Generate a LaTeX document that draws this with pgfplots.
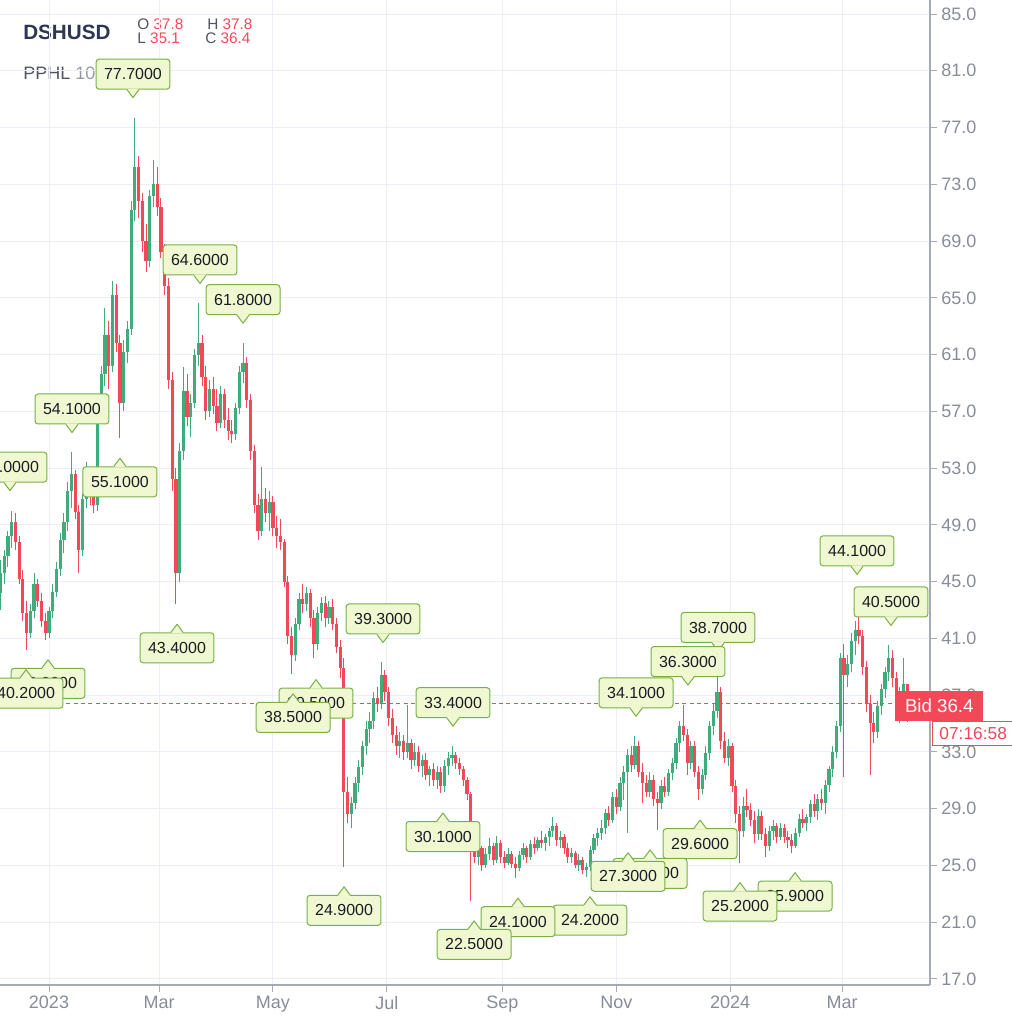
\documentclass[border=0pt]{standalone}
\usepackage{fontspec}
\setmainfont{Liberation Sans}
\usepackage{pgfplots}
\usepackage{pgfplotstable}
\pgfplotsset{compat=1.18}
\definecolor{cred}{RGB}{242,72,88}
\definecolor{cgreen}{RGB}{64,172,124}
\definecolor{labfill}{RGB}{240,248,210}
\definecolor{labbd}{RGB}{120,175,70}
\definecolor{labtext}{RGB}{25,28,35}
\definecolor{axgray}{RGB}{165,170,184}
\definecolor{ticktext}{RGB}{135,140,152}
\definecolor{gridc}{RGB}{236,240,246}
\definecolor{titlec}{RGB}{45,55,85}
\definecolor{hdrgray}{RGB}{80,84,95}
\definecolor{lgray}{RGB}{150,154,165}

\pgfplotstableread{
t o h l c
-26 44.2 46.5 43.0 45.6
-24 45.6 47.2 44.8 46.8
-22 46.8 48.6 46.0 48.2
-20 48.2 50.0 47.4 49.2
-18 49.2 49.8 47.2 47.8
-16 47.8 48.2 44.8 45.2
-14 45.2 45.8 42.2 42.8
-12 42.8 43.6 40.2 41.4
-10 41.4 43.4 41.0 42.9
-8 42.9 45.6 42.4 44.8
-6 44.8 45.2 43.2 43.6
-4 43.6 44.2 41.8 42.2
-2 42.2 42.8 40.9 41.4
0 41.4 43.2 41.0 42.9
2 42.9 44.8 42.4 44.3
4 44.3 46.4 43.9 45.9
6 45.9 48.4 45.4 47.9
8 47.9 49.8 47.0 49.2
10 49.2 52.0 48.6 51.4
12 51.4 54.1 50.2 52.6
14 52.6 52.9 49.4 49.9
16 49.9 50.4 45.6 47.2
18 47.2 51.2 46.8 50.8
20 50.8 53.4 50.2 52.7
22 52.7 53.0 50.4 51.0
24 51.0 51.6 49.8 50.4
26 50.4 57.2 50.0 56.8
28 56.8 60.2 56.2 59.6
30 59.6 64.3 58.8 62.4
32 62.4 63.4 58.6 60.2
34 60.2 66.2 59.8 65.2
36 65.2 66.0 61.2 61.8
38 61.8 62.4 55.1 57.6
40 57.6 62.0 57.0 61.2
42 61.2 63.4 60.4 62.8
44 62.8 71.8 62.4 71.2
46 71.2 77.7 70.4 74.2
48 74.2 75.0 70.6 71.8
50 71.8 72.4 68.2 69.0
52 69.0 70.2 66.8 67.6
54 67.6 72.6 67.2 72.2
56 72.2 74.7 71.4 73.0
58 73.0 74.2 70.8 71.4
60 71.4 72.0 67.8 68.2
62 68.2 68.8 65.2 65.8
64 65.8 66.4 58.6 59.2
66 59.2 59.8 51.4 52.2
68 52.2 53.0 43.4 45.6
70 45.6 54.8 45.0 54.2
72 54.2 60.1 53.6 58.4
74 58.4 59.6 56.0 56.6
76 56.6 58.2 55.2 57.6
78 57.6 61.4 57.2 61.0
80 61.0 64.6 60.2 61.8
82 61.8 62.4 58.8 59.4
84 59.4 60.2 56.4 57.0
86 57.0 59.2 56.6 58.6
88 58.6 59.4 56.8 57.4
90 57.4 58.6 55.6 56.2
92 56.2 58.8 55.8 58.2
94 58.2 58.6 55.8 56.4
96 56.4 57.2 55.0 55.6
98 55.6 56.4 54.8 55.4
100 55.4 57.6 55.0 57.2
102 57.2 60.2 56.8 59.8
104 59.8 61.8 59.0 60.4
106 60.4 60.8 57.2 57.8
108 57.8 58.2 53.6 54.2
110 54.2 54.6 49.8 50.4
112 50.4 51.2 47.9 48.6
114 48.6 53.1 48.2 50.8
116 50.8 51.6 49.2 49.8
118 49.8 51.4 48.6 50.6
120 50.6 51.0 48.2 48.8
122 48.8 49.6 47.4 48.2
124 48.2 49.4 47.2 47.8
126 47.8 48.0 44.6 45.0
128 45.0 45.4 40.6 41.2
130 41.2 41.8 38.5 39.8
132 39.8 42.4 39.4 42.0
134 42.0 44.2 41.6 43.8
136 43.8 44.8 42.8 43.4
138 43.4 44.6 42.9 44.2
140 44.2 44.5 41.8 42.4
142 42.4 43.0 39.6 40.6
144 40.6 43.2 40.2 42.8
146 42.8 43.9 42.2 43.5
148 43.5 44.0 41.8 42.4
150 42.4 43.6 42.0 43.2
152 43.2 43.8 41.6 42.0
154 42.0 42.4 40.0 40.4
156 40.4 40.9 38.2 38.9
158 38.9 39.6 24.9 30.2
160 30.2 31.2 28.0 28.6
162 28.6 29.8 27.6 29.4
164 29.4 31.2 29.0 30.8
166 30.8 32.4 30.2 31.9
168 31.9 33.8 31.4 33.4
170 33.4 35.2 32.8 34.6
172 34.6 35.8 33.6 35.2
174 35.2 37.2 34.6 36.8
176 36.8 37.6 35.8 36.4
178 36.4 39.3 36.0 38.4
180 38.4 38.8 36.6 37.2
182 37.2 37.6 34.8 35.4
184 35.4 36.0 33.6 34.2
186 34.2 34.8 32.8 33.4
188 33.4 34.4 32.6 33.8
190 33.8 34.2 32.4 33.0
192 33.0 36.3 32.6 33.6
194 33.6 33.9 31.8 32.4
196 32.4 33.6 32.0 33.0
198 33.0 33.4 31.6 32.0
200 32.0 32.8 31.2 32.4
202 32.4 32.9 31.0 31.4
204 31.4 32.0 30.6 31.8
206 31.8 32.2 30.6 31.0
208 31.0 32.0 30.4 31.6
210 31.6 31.9 30.1 30.6
212 30.6 32.4 30.2 32.0
214 32.0 33.0 31.4 32.6
216 32.6 33.4 32.0 32.8
218 32.8 33.0 31.8 32.2
220 32.2 32.6 31.4 31.8
222 31.8 32.0 30.6 31.0
224 31.0 31.2 29.6 30.0
226 30.0 30.2 22.5 26.4
228 26.4 27.0 25.2 25.6
230 25.6 26.8 25.0 26.2
232 26.2 26.4 24.6 25.0
234 25.0 26.2 24.8 25.8
236 25.8 26.9 25.4 26.4
238 26.4 26.6 25.0 25.4
240 25.4 27.1 25.2 26.6
242 26.6 26.8 25.2 25.6
244 25.6 26.0 24.8 25.2
246 25.2 26.2 25.0 25.8
248 25.8 26.0 24.8 25.1
250 25.1 25.6 24.1 24.8
252 24.8 26.0 24.6 25.7
254 25.7 26.6 25.4 26.2
256 26.2 26.4 25.2 25.6
258 25.6 26.8 25.4 26.5
260 26.5 27.0 25.8 26.2
262 26.2 27.0 26.0 26.8
264 26.8 27.4 26.2 26.6
266 26.6 27.2 26.0 27.0
268 27.0 27.6 26.4 27.4
270 27.4 28.4 27.0 27.8
272 27.8 28.0 26.4 26.8
274 26.8 27.4 26.2 27.0
276 27.0 27.2 25.8 26.2
278 26.2 26.6 25.2 25.6
280 25.6 26.2 25.2 25.9
282 25.9 26.0 24.8 25.0
284 25.0 25.8 24.6 25.4
286 25.4 25.6 24.4 24.7
288 24.7 25.2 24.2 24.9
290 24.9 26.4 24.6 26.1
292 26.1 27.2 25.8 26.9
294 26.9 27.6 26.4 27.3
296 27.3 28.2 26.8 27.6
298 27.6 29.0 27.2 28.7
300 28.7 29.2 27.8 28.2
302 28.2 30.2 28.0 29.8
304 29.8 30.4 28.6 29.1
306 29.1 31.2 28.8 30.8
308 30.8 32.0 29.6 31.6
310 31.6 33.2 27.3 32.8
312 32.8 33.4 31.6 32.1
314 32.1 34.1 31.8 33.4
316 33.4 33.8 31.2 31.6
318 31.6 32.2 29.4 30.8
320 30.8 31.4 29.8 30.2
322 30.2 31.6 29.8 31.0
324 31.0 31.4 29.2 29.7
326 29.7 30.2 27.5 29.4
328 29.4 31.0 29.0 30.6
330 30.6 31.2 29.8 30.2
332 30.2 31.8 29.9 31.5
334 31.5 32.6 31.0 32.2
336 32.2 34.0 31.8 33.6
338 33.6 35.2 33.0 34.8
340 34.8 36.3 33.8 34.2
342 34.2 34.6 31.4 32.2
344 32.2 33.8 31.8 33.4
346 33.4 33.8 31.2 31.6
348 31.6 32.0 29.6 30.4
350 30.4 31.8 30.0 31.4
352 31.4 33.4 31.0 32.9
354 32.9 35.2 32.4 34.8
356 34.8 36.4 34.2 35.9
358 35.9 38.7 35.4 37.2
360 37.2 37.6 33.2 33.8
362 33.8 34.4 32.2 32.6
364 32.6 33.9 32.0 33.4
366 33.4 33.6 30.2 30.6
368 30.6 31.0 28.0 28.6
370 28.6 29.2 25.2 27.4
372 27.4 29.8 27.0 29.2
374 29.2 30.4 28.4 28.9
376 28.9 29.4 27.8 28.2
378 28.2 28.8 26.6 27.2
380 27.2 29.0 26.8 28.5
382 28.5 28.8 26.8 27.2
384 27.2 27.6 25.6 26.4
386 26.4 27.8 26.0 27.4
388 27.4 28.2 26.8 27.8
390 27.8 28.0 26.6 27.0
392 27.0 28.0 26.8 27.6
394 27.6 27.9 26.6 27.0
396 27.0 27.4 26.2 26.8
398 26.8 27.2 25.9 26.4
400 26.4 27.6 26.2 27.3
402 27.3 28.6 27.0 28.3
404 28.3 29.0 27.6 28.0
406 28.0 28.6 27.4 28.4
408 28.4 29.6 28.0 29.3
410 29.3 30.0 28.4 28.8
412 28.8 30.0 28.2 29.7
414 29.7 30.4 28.9 29.4
416 29.4 31.0 28.6 30.7
418 30.7 32.0 30.2 31.8
420 31.8 33.4 31.2 33.0
422 33.0 35.2 32.6 34.8
424 34.8 40.0 34.4 39.6
426 39.6 40.6 31.2 38.4
428 38.4 39.8 37.6 39.2
430 39.2 41.4 38.6 40.8
432 40.8 42.2 39.8 41.6
434 41.6 44.1 40.6 41.2
436 41.2 41.6 38.4 39.0
438 39.0 39.4 35.8 36.4
440 36.4 37.0 31.4 35.0
442 35.0 35.8 33.6 34.4
444 34.4 36.6 34.0 36.2
446 36.2 37.8 35.6 37.4
448 37.4 39.0 36.8 38.6
450 38.6 40.5 38.0 39.6
452 39.6 40.2 37.6 38.2
454 38.2 38.6 35.2 36.0
456 36.0 37.6 35.0 37.0
458 37.0 39.6 36.4 37.8
460 37.8 37.8 35.1 36.4
}\candles

\tikzset{lab/.style={draw=labbd, fill=labfill, rounded corners=2.25pt, line width=0.75pt,
  minimum height=22.5pt, inner xsep=6pt, inner ysep=0pt, text=labtext,
  font=\fontsize{12}{12}\selectfont}}

\newcommand\highlab[3]{%
  \node[lab, anchor=south] (L) at ([yshift=21pt]axis cs:#1,#2) {#3};
  \fill[labfill] ([xshift=-4.5pt,yshift=0.8pt]L.south) -- ([yshift=-6pt]L.south) -- ([xshift=4.5pt,yshift=0.8pt]L.south) -- cycle;
  \draw[labbd, line width=0.75pt, line join=round] ([xshift=-4.5pt]L.south) -- ([yshift=-6pt]L.south) -- ([xshift=4.5pt]L.south);
}
\newcommand\lowlab[3]{%
  \node[lab, anchor=north] (L) at ([yshift=-21pt]axis cs:#1,#2) {#3};
  \fill[labfill] ([xshift=-4.5pt,yshift=-0.8pt]L.north) -- ([yshift=6pt]L.north) -- ([xshift=4.5pt,yshift=-0.8pt]L.north) -- cycle;
  \draw[labbd, line width=0.75pt, line join=round] ([xshift=-4.5pt]L.north) -- ([yshift=6pt]L.north) -- ([xshift=4.5pt]L.north);
}

\begin{document}
\begin{tikzpicture}
% header
\node[anchor=base west, inner sep=0pt, font=\fontsize{15.5}{15.5}\selectfont\bfseries, text=titlec] at (17.25pt,708.75pt) {DSHUSD};
\node[anchor=base west, inner sep=0pt, font=\fontsize{11.5}{11.5}\selectfont, text=hdrgray] at (102.75pt,716.25pt) {O \textcolor{cred}{37.8}};
\node[anchor=base west, inner sep=0pt, font=\fontsize{11.5}{11.5}\selectfont, text=hdrgray] at (102.75pt,705.75pt) {L \textcolor{cred}{35.1}};
\node[anchor=base west, inner sep=0pt, font=\fontsize{11.5}{11.5}\selectfont, text=hdrgray] at (155.25pt,716.25pt) {H \textcolor{cred}{37.8}};
\node[anchor=base west, inner sep=0pt, font=\fontsize{11.5}{11.5}\selectfont, text=hdrgray] at (153.75pt,705.75pt) {C \textcolor{cred}{36.4}};
\node[anchor=base west, inner sep=0pt, font=\fontsize{13.5}{13.5}\selectfont, text=hdrgray] at (17.25pt,678.75pt) {PPHL \textcolor{lgray}{10 10}};

\begin{axis}[
  at={(0pt,0pt)}, anchor=south west,
  scale only axis, width=697.5pt, height=738.75pt,
  xmin=-26.26, xmax=472.1, ymin=16.57, ymax=85.99,
  axis x line*=bottom, axis y line*=right,
  axis line style={draw=axgray, line width=0.9pt},
  tick align=outside, major tick length=5pt,
  major tick style={draw=axgray, line width=0.75pt},
  xtick={0,59,120,181,243,304,365,425},
  xticklabels={2023,Mar,May,Jul,Sep,Nov,2024,Mar},
  ytick={17,21,...,85},
  yticklabel style={/pgf/number format/.cd, fixed, fixed zerofill, precision=1},
  /pgf/number format/assume math mode=true,
  ticklabel style={font=\fontsize{13.5}{13.5}\selectfont, text=ticktext},
  grid=major, major grid style={draw=gridc, line width=0.75pt},
]
% wicks
\addplot[draw=none, mark=none, forget plot,
  restrict expr to domain={\thisrow{c}-\thisrow{o}}{-100:-0.001},
  error bars/.cd, y dir=plus, y explicit, error mark=none,
  error bar style={draw=cred, line width=0.75pt}]
  table[x=t, y=l, y error plus expr=\thisrow{h}-\thisrow{l}] {\candles};
\addplot[draw=none, mark=none, forget plot,
  restrict expr to domain={\thisrow{c}-\thisrow{o}}{0:100},
  error bars/.cd, y dir=plus, y explicit, error mark=none,
  error bar style={draw=cgreen, line width=0.75pt}]
  table[x=t, y=l, y error plus expr=\thisrow{h}-\thisrow{l}] {\candles};
% bodies
\addplot[draw=none, mark=none, forget plot,
  restrict expr to domain={\thisrow{c}-\thisrow{o}}{-100:-0.001},
  error bars/.cd, y dir=plus, y explicit, error mark=none,
  error bar style={draw=cred, line width=2.4pt}]
  table[x=t, y=c, y error plus expr=\thisrow{o}-\thisrow{c}] {\candles};
\addplot[draw=none, mark=none, forget plot,
  restrict expr to domain={\thisrow{c}-\thisrow{o}}{0:100},
  error bars/.cd, y dir=plus, y explicit, error mark=none,
  error bar style={draw=cgreen, line width=2.4pt}]
  table[x=t, y=o, y error plus expr=\thisrow{c}-\thisrow{o}] {\candles};

% last price line
\draw[draw=cred, line width=1pt, dash pattern=on 3pt off 2.5pt] (axis cs:-30,36.4) -- (axis cs:454,36.4);

% labels (later dates first so earlier ones lie on top)
\lowlab{399.8}{25.9}{25.9000}
\lowlab{370.3}{25.2}{25.2000}
\highlab{451.2}{40.5}{40.5000}
\highlab{433.0}{44.1}{44.1000}
\lowlab{348.9}{29.6}{29.6000}
\lowlab{322.1}{27.5}{27.5000}
\lowlab{310.3}{27.3}{27.3000}
\highlab{358.5}{38.7}{38.7000}
\highlab{342.4}{36.3}{36.3000}
\highlab{314.6}{34.1}{34.1000}
\lowlab{289.9}{24.2}{24.2000}
\lowlab{251.3}{24.1}{24.1000}
\lowlab{227.8}{22.5}{22.5000}
\lowlab{211.1}{30.1}{30.1000}
\highlab{216.5}{33.4}{33.4000}
\highlab{179.0}{39.3}{39.3000}
\lowlab{158.1}{24.9}{24.9000}
\lowlab{143.1}{39.5}{39.5000}
\lowlab{130.8}{38.5}{38.5000}
\highlab{104.0}{61.8}{61.8000}
\highlab{80.9}{64.6}{64.6000}
\lowlab{68.6}{43.4}{43.4000}
\lowlab{38.0}{55.1}{55.1000}
\highlab{45.0}{77.7}{77.7000}
\highlab{12.3}{54.1}{54.1000}
\lowlab{-0.5}{40.9}{40.9000}
\lowlab{-12.3}{40.2}{40.2000}
\highlab{-20.9}{50.0}{50.0000}
\end{axis}

% bid label and countdown
\node[fill=cred, text=white, anchor=west, minimum width=66pt, minimum height=22.5pt, inner sep=0pt,
  font=\fontsize{14}{14}\selectfont] at (671.25pt,209.25pt) {Bid 36.4};
\node[draw=cred, fill=white, text=cred, anchor=north west, minimum width=61pt, minimum height=18pt, inner sep=0pt,
  line width=0.75pt, font=\fontsize{13}{13}\selectfont] at (699pt,198pt) {07:16:58};

\pgfresetboundingbox
\path[use as bounding box] (0pt,-29.25pt) rectangle (759pt,738.75pt);
\end{tikzpicture}
\end{document}
